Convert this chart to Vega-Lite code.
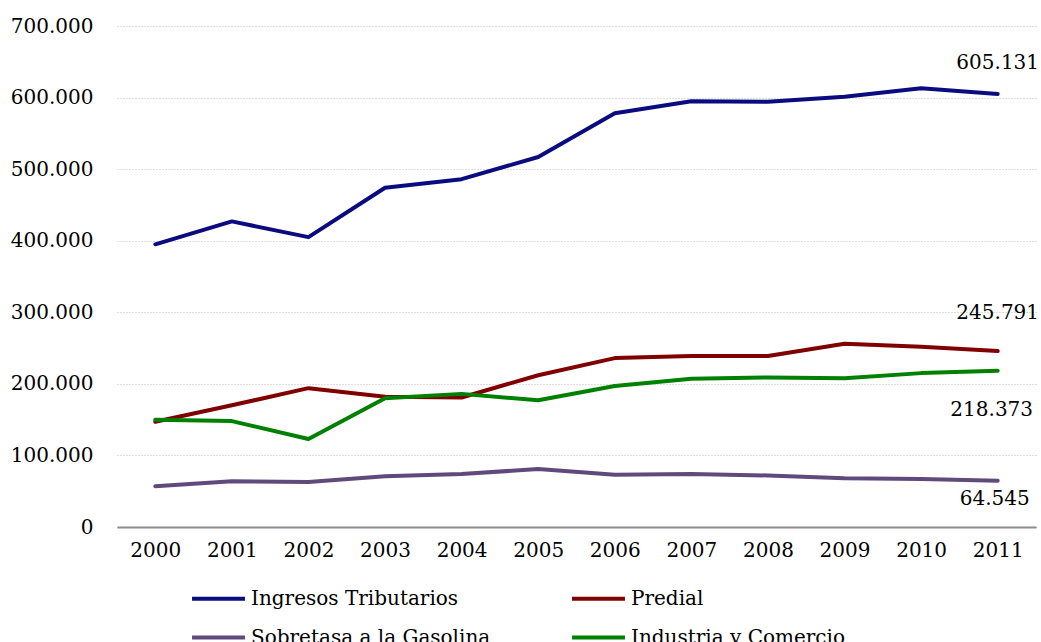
{
  "$schema": "https://vega.github.io/schema/vega-lite/v6.json",
  "autosize": "none",
  "width": 919,
  "height": 501,
  "padding": {"left": 117, "top": 26, "right": 5, "bottom": 115},
  "config": {
    "locale": {"number": {"decimal": ",", "thousands": ".", "grouping": [3], "currency": ["$", ""]}},
    "font": "DejaVu Serif",
    "view": {"stroke": null}
  },
  "data": {"values": [
    {"year": "2000", "series": "Ingresos Tributarios", "value": 395000},
    {"year": "2001", "series": "Ingresos Tributarios", "value": 427000},
    {"year": "2002", "series": "Ingresos Tributarios", "value": 405000},
    {"year": "2003", "series": "Ingresos Tributarios", "value": 474000},
    {"year": "2004", "series": "Ingresos Tributarios", "value": 486000},
    {"year": "2005", "series": "Ingresos Tributarios", "value": 517000},
    {"year": "2006", "series": "Ingresos Tributarios", "value": 578000},
    {"year": "2007", "series": "Ingresos Tributarios", "value": 595000},
    {"year": "2008", "series": "Ingresos Tributarios", "value": 594000},
    {"year": "2009", "series": "Ingresos Tributarios", "value": 601000},
    {"year": "2010", "series": "Ingresos Tributarios", "value": 613000},
    {"year": "2011", "series": "Ingresos Tributarios", "value": 605131},
    {"year": "2000", "series": "Predial", "value": 147000},
    {"year": "2001", "series": "Predial", "value": 170000},
    {"year": "2002", "series": "Predial", "value": 194000},
    {"year": "2003", "series": "Predial", "value": 182000},
    {"year": "2004", "series": "Predial", "value": 181000},
    {"year": "2005", "series": "Predial", "value": 212000},
    {"year": "2006", "series": "Predial", "value": 236000},
    {"year": "2007", "series": "Predial", "value": 239000},
    {"year": "2008", "series": "Predial", "value": 239000},
    {"year": "2009", "series": "Predial", "value": 256000},
    {"year": "2010", "series": "Predial", "value": 252000},
    {"year": "2011", "series": "Predial", "value": 245791},
    {"year": "2000", "series": "Sobretasa a la Gasolina", "value": 57000},
    {"year": "2001", "series": "Sobretasa a la Gasolina", "value": 64000},
    {"year": "2002", "series": "Sobretasa a la Gasolina", "value": 63000},
    {"year": "2003", "series": "Sobretasa a la Gasolina", "value": 71000},
    {"year": "2004", "series": "Sobretasa a la Gasolina", "value": 74000},
    {"year": "2005", "series": "Sobretasa a la Gasolina", "value": 81000},
    {"year": "2006", "series": "Sobretasa a la Gasolina", "value": 73000},
    {"year": "2007", "series": "Sobretasa a la Gasolina", "value": 74000},
    {"year": "2008", "series": "Sobretasa a la Gasolina", "value": 72000},
    {"year": "2009", "series": "Sobretasa a la Gasolina", "value": 68000},
    {"year": "2010", "series": "Sobretasa a la Gasolina", "value": 67000},
    {"year": "2011", "series": "Sobretasa a la Gasolina", "value": 64545},
    {"year": "2000", "series": "Industria y Comercio", "value": 150000},
    {"year": "2001", "series": "Industria y Comercio", "value": 148000},
    {"year": "2002", "series": "Industria y Comercio", "value": 123000},
    {"year": "2003", "series": "Industria y Comercio", "value": 180000},
    {"year": "2004", "series": "Industria y Comercio", "value": 186000},
    {"year": "2005", "series": "Industria y Comercio", "value": 177000},
    {"year": "2006", "series": "Industria y Comercio", "value": 197000},
    {"year": "2007", "series": "Industria y Comercio", "value": 207000},
    {"year": "2008", "series": "Industria y Comercio", "value": 209000},
    {"year": "2009", "series": "Industria y Comercio", "value": 208000},
    {"year": "2010", "series": "Industria y Comercio", "value": 215000},
    {"year": "2011", "series": "Industria y Comercio", "value": 218373}
  ]},
  "encoding": {
    "x": {"field": "year", "type": "ordinal", "scale": {"type": "point", "padding": 0.5},
      "axis": {"title": null, "labelAngle": 0, "labelFontSize": 20, "labelColor": "#000", "labelPadding": 13, "ticks": false, "domainColor": "#8c8c8c", "domainWidth": 2, "grid": false}},
    "y": {"field": "value", "type": "quantitative", "scale": {"domain": [0, 700000], "nice": false},
      "axis": {"title": null, "values": [0, 100000, 200000, 300000, 400000, 500000, 600000, 700000], "format": ",d", "labelFontSize": 20, "labelColor": "#000", "labelPadding": 24, "ticks": false, "domain": false, "gridColor": "#bfbfbf", "gridDash": [1, 2], "gridWidth": 1}}
  },
  "layer": [
    {
      "mark": {"type": "line", "strokeWidth": 4, "strokeCap": "round", "strokeJoin": "round"},
      "encoding": {
        "color": {"field": "series", "type": "nominal",
          "scale": {"domain": ["Ingresos Tributarios", "Sobretasa a la Gasolina", "Predial", "Industria y Comercio"], "range": ["#0b0b80", "#604a7b", "#800000", "#008000"]},
          "legend": {"title": null, "orient": "none", "legendX": 73, "legendY": 544, "columns": 2, "columnPadding": 73, "rowPadding": -19, "symbolType": "stroke", "symbolSize": 2800, "symbolStrokeWidth": 4, "labelFontSize": 20, "labelColor": "#000", "labelOffset": 4, "labelLimit": 400}}
      }
    },
    {
      "transform": [{"filter": "datum.year == '2011' && datum.series == 'Ingresos Tributarios'"}],
      "mark": {"type": "text", "fontSize": 20, "dy": -31, "align": "center"},
      "encoding": {"text": {"field": "value", "type": "quantitative", "format": ",d"}}
    },
    {
      "transform": [{"filter": "datum.year == '2011' && datum.series == 'Predial'"}],
      "mark": {"type": "text", "fontSize": 20, "dy": -38, "align": "center"},
      "encoding": {"text": {"field": "value", "type": "quantitative", "format": ",d"}}
    },
    {
      "transform": [{"filter": "datum.year == '2011' && datum.series == 'Industria y Comercio'"}],
      "mark": {"type": "text", "fontSize": 20, "dy": 39, "dx": -6, "align": "center"},
      "encoding": {"text": {"field": "value", "type": "quantitative", "format": ",d"}}
    },
    {
      "transform": [{"filter": "datum.year == '2011' && datum.series == 'Sobretasa a la Gasolina'"}],
      "mark": {"type": "text", "fontSize": 20, "dy": 18, "dx": -3, "align": "center"},
      "encoding": {"text": {"field": "value", "type": "quantitative", "format": ",d"}}
    }
  ]
}
